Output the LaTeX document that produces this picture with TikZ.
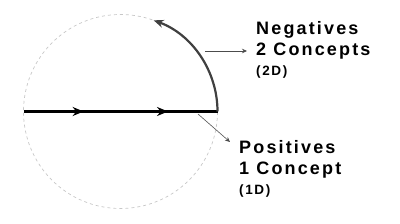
\documentclass[tikz,border=0pt]{standalone}
\usepackage{fontspec}
\setmainfont{Liberation Sans}
\newfontfamily\captionfont{Liberation Sans}[LetterSpace=12]
\usetikzlibrary{arrows.meta,decorations.markings,calc}
\tikzset{
 guide/.style={draw=black!22,line width=0.7pt,dash pattern=on 3pt off 3pt},
 axis/.style={line width=2.5pt,postaction=decorate,
  decoration={markings,
   mark=at position 0.31 with {\arrow{Stealth[length=11pt,width=9pt]}},
   mark=at position 0.745 with {\arrow{Stealth[length=11pt,width=9pt]}}}},
 turn/.style={draw=black!75,line width=2.2pt,-{Stealth[length=10pt,width=8pt]}},
 pointer/.style={draw=black!70,line width=0.6pt,-{Stealth[length=5pt,width=4.5pt]}},
 caption/.style={align=left,inner sep=0pt,anchor=north west,
  font=\captionfont\bfseries\fontsize{18}{21}\selectfont}
}
\begin{document}
\begin{tikzpicture}[x=1pt,y=1pt]
 \useasboundingbox (0,0) rectangle (400,223);
 \coordinate (o) at (120.5,111.5);
 \draw[guide] (o) circle (97);
 % the one concept, along the line
 \coordinate (left) at ($(o)+(-97,0)$);
 \coordinate (right) at ($(o)+(97,0)$);
 \draw[axis] (left) -- (right);
 % the turn into the second dimension
 \draw[turn] (right) arc (0:70:97);
 \node[caption] (neg) at (256,202) {Negatives\\2 Concepts\\[-1pt]{\fontsize{13.5}{15}\selectfont(2D)}};
 \node[caption] (pos) at (239,83) {Positives\\1 Concept\\[-1pt]{\fontsize{13.5}{15}\selectfont(1D)}};
 \coordinate (negfrom) at (205,172);
 \coordinate (posfrom) at (198,109);
 \draw[pointer] (negfrom) -- ([xshift=-9pt]negfrom -| neg.west);
 \draw[pointer] (posfrom) -- ([shift={(-9pt,-2pt)}]pos.north west);
\end{tikzpicture}
\end{document}
